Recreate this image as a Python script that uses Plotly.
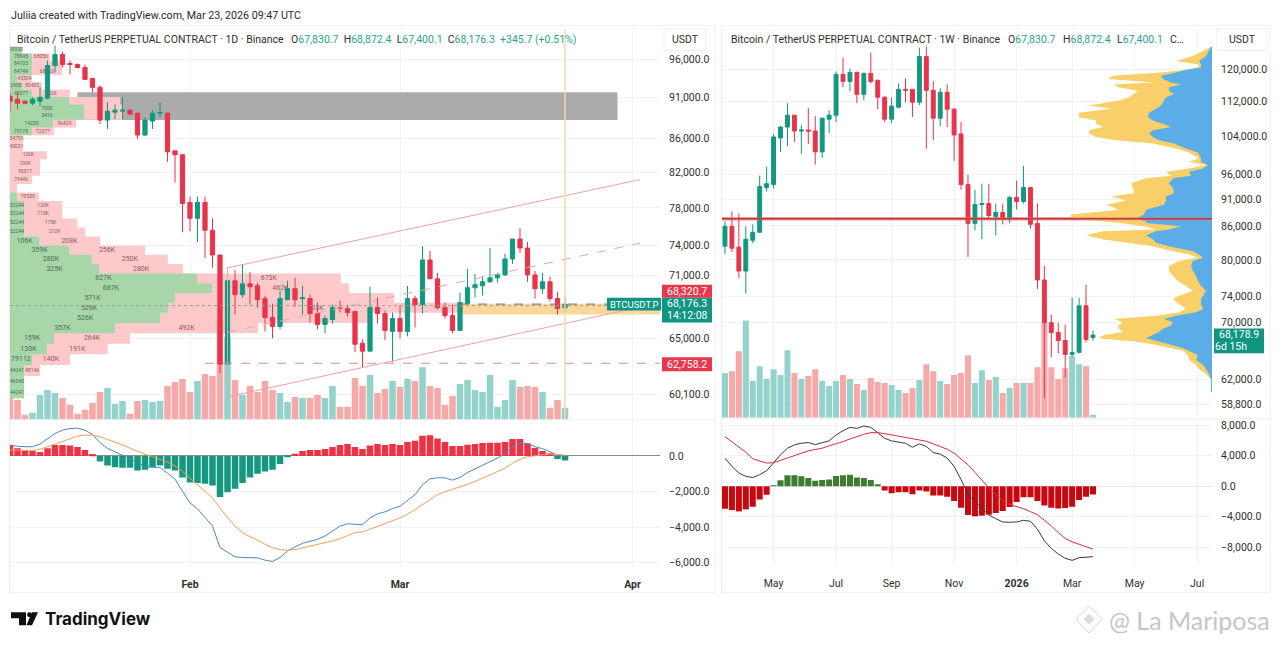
import numpy as np
import pandas as pd
import plotly.graph_objects as go

W, H = 1280, 648
FONT = "Roboto"
UP, DOWN = "#12987f", "#e8344a"
VOL_UP, VOL_DOWN = "#93d3cb", "#f7a8a8"

# ---- daily chart
d_dates = pd.date_range("2026-01-08", periods=75, freq="D")
d_open = [91190, 90810, 90560, 90310, 90560, 90950, 95200, 96670, 95470, 95340, 94940, 93500, 92340, 88200, 89190,
          89310, 89440, 89060, 86380, 88080, 89060, 89060, 84490, 84020, 78600, 76880, 78600, 75600, 73030, 62680,
          70440, 69080, 70140, 69950, 68700, 66910, 66080, 68600, 69660, 68700, 68700, 67280, 66260, 66720, 67840,
          67750, 67470, 64540, 63830, 67840, 67280, 65620, 66810, 65620, 68700, 68130, 72520, 70630, 67840, 67100,
          65710, 68220, 69750, 69950, 70340, 70730, 71020, 72620, 74670, 73740, 71020, 69660, 70340, 68700, 67830.7]
d_high = [91700, 91700, 90690, 91060, 92340, 95870, 97880, 97070, 95870, 95470, 95340, 93500, 92600, 90440, 90180,
          91060, 89560, 89060, 88570, 89440, 90440, 89190, 84490, 84140, 79260, 79260, 79260, 76880, 73030, 71720,
          71520, 72120, 71320, 70240, 68990, 68220, 69470, 70440, 70730, 69950, 69080, 68320, 67100, 68130, 68510,
          68030, 67470, 64900, 69850, 68790, 67560, 67370, 68030, 69950, 68990, 73940, 73430, 71220, 68320, 68130,
          69270, 71620, 71120, 70920, 73740, 71220, 73130, 74670, 75810, 74360, 71420, 71220, 70830, 69370, 68872.4]
d_low = [89190, 89560, 90180, 90060, 89930, 90810, 94280, 94940, 94020, 94810, 93370, 91700, 87720, 87110, 88330,
         88330, 88940, 85910, 86260, 87110, 88570, 83210, 80810, 75390, 75500, 74360, 72720, 71720, 61900, 59870,
         67190, 68790, 68130, 67840, 65620, 64990, 65800, 68600, 67930, 67190, 66450, 65800, 65440, 66350, 67370,
         67000, 63740, 62420, 63830, 66350, 64810, 62860, 64990, 65170, 65990, 67280, 70630, 67660, 66810, 65440,
         65710, 68220, 68790, 68990, 70240, 70240, 70920, 72120, 73230, 70340, 68700, 69180, 68410, 67190, 67400.1]
d_close = [90560, 90310, 90310, 90810, 91060, 95200, 96670, 95340, 95340, 94940, 93370, 92340, 88200, 89310, 89440,
           89440, 88940, 86380, 88200, 89060, 89120, 84370, 84020, 78490, 76880, 78600, 75600, 73030, 62680, 70440,
           69080, 70140, 69850, 68600, 66910, 66080, 68700, 69660, 68600, 68790, 67280, 66260, 66810, 67840, 67750,
           67370, 64450, 63830, 67840, 67280, 65710, 66810, 65620, 68700, 68130, 72520, 70630, 67840, 67100, 65710,
           68320, 69750, 70050, 70340, 70730, 71020, 72620, 74670, 73740, 71020, 69660, 70340, 68700, 67750, 68176.3]
d_volume = [22, 20, 5, 7, 25, 30, 27, 22, 15, 6, 10, 17, 28, 32, 16, 19, 6, 19, 20, 18, 19, 34, 38, 41, 28, 39, 46,
            44, 100, 83, 40, 25, 34, 28, 39, 30, 27, 18, 23, 22, 22, 25, 22, 34, 13, 13, 42, 34, 45, 27, 31, 39, 33,
            41, 39, 53, 34, 32, 15, 24, 36, 40, 30, 28, 45, 13, 20, 40, 33, 34, 33, 28, 12, 20, 12]
d_macd = [614, 540, 521, 521, 670, 987, 1266, 1452, 1545, 1564, 1452, 1210, 745, 428, 242, 19, -130, -354, -596, -633,
          -652, -968, -1303, -1992, -2644, -2979, -3482, -3947, -5158, -5400, -5679, -5716, -5716, -5735, -5865, -5940,
          -5716, -5344, -5120, -4916, -4804, -4692, -4506, -4227, -3947, -3817, -3854, -3873, -3482, -3258, -3147,
          -2961, -2830, -2514, -2179, -1620, -1285, -1229, -1229, -1359, -1210, -931, -745, -521, -317, -130, 149,
          521, 708, 708, 521, 410, 242, 37, -19]
d_signal = [335, 335, 298, 298, 372, 521, 670, 838, 987, 1117, 1173, 1173, 1080, 950, 782, 614, 428, 242, 93, -37,
            -186, -354, -559, -875, -1248, -1620, -1992, -2365, -2923, -3482, -3947, -4320, -4543, -4730, -4972, -5158,
            -5270, -5307, -5270, -5176, -5102, -5009, -4897, -4785, -4655, -4506, -4320, -4283, -4134, -3985, -3817,
            -3650, -3482, -3277, -3016, -2737, -2421, -2179, -2011, -1881, -1750, -1601, -1434, -1248, -1061, -875,
            -689, -410, -186, -37, 0, 74, 112, 93, 37]
d_hist = [614, 428, 279, 279, 223, 428, 614, 614, 596, 503, 335, 112, -317, -540, -633, -670, -670, -819, -782, -652,
          -540, -726, -819, -1210, -1490, -1527, -1564, -1657, -2309, -2048, -1843, -1527, -1210, -1005, -875, -782,
          -447, -74, 130, 279, 335, 335, 391, 503, 614, 670, 503, 391, 596, 670, 614, 670, 614, 782, 857, 1136, 1173,
          987, 782, 559, 559, 633, 670, 726, 745, 745, 782, 950, 950, 708, 447, 279, 149, -168, -261]

d_price_ticks = [96000, 91000, 86000, 82000, 78000, 74000, 71000, 65000, 60100]
d_price_labels = ["96,000.0", "91,000.0", "86,000.0", "82,000.0", "78,000.0", "74,000.0", "71,000.0", "65,000.0", "60,100.0"]
d_macd_ticks = [0, -2000, -4000, -6000]
d_macd_labels = ["0.0", "\u22122,000.0", "\u22124,000.0", "\u22126,000.0"]
d_months = ["2026-02-01", "2026-03-01", "2026-04-01"]
d_month_labels = ["<b>Feb</b>", "<b>Mar</b>", "<b>Apr</b>"]

# volume profile, rows top to bottom, in thousands
vp_edges = [97750, 96800, 95850, 94900, 93950, 93000, 92050, 91100, 90150, 89200, 88250, 87300, 86350, 85400, 84450,
            83500, 82550, 81600, 80650, 79700, 78750, 77800, 76850, 75900, 74950, 74000, 73050, 72100, 71150, 70200,
            69250, 68300, 67350, 66400, 65450, 64500, 63550, 62600, 61650, 60700, 59750]
vp_up = [40, 73, 73, 73, 23, 40, 73, 197, 247, 247, 143, 73, 0, 0, 0, 0, 0, 0, 0, 23, 47, 47, 47, 47, 97, 197, 273,
         297, 623, 673, 550, 527, 500, 350, 147, 123, 73, 47, 47, 47]
vp_down = [0, 60, 100, 100, 50, 67, 127, 170, 127, 127, 77, 73, 43, 43, 123, 100, 100, 73, 23, 73, 127, 127, 177, 203,
           203, 253, 253, 280, 480, 457, 730, 983, 693, 477, 253, 203, 127, 53, 0, 0]
vp_up_labels = ["99330", "78045", "84105", "84749", "", "2900", "40377", "", "7056", "3416", "14230", "79178", "", "",
                "", "", "", "", "", "", "52244", "52244", "52244", "52244", "106K", "359K", "280K", "325K", "627K",
                "687K", "571K", "526K", "526K", "357K", "159K", "130K", "79112", "44241", "46040", "44241"]
vp_down_labels = ["", "68056", "", "68163", "45304", "80405", "1526", "", "", "", "96429", "72577", "54759", "45031",
                  "126K", "109K", "95317", "79446", "", "70530", "120K", "115K", "175K", "212K", "208K", "256K",
                  "250K", "280K", "673K", "462K", "", "303K", "", "492K", "264K", "191K", "140K", "48146", "", ""]

zone_grey_days = ["2026-01-17", "2026-03-30"]
zone_grey_prices = [91700, 88200]
zone_orange_days = ["2026-03-09", "2026-04-05"]
zone_orange_prices = [68220, 67190]
channel_days = ["2026-02-06", "2026-04-02"]
channel_top = [71720, 81150]
channel_mid = [65530, 74250]
channel_low = [59870, 67890]
poc_price = 68030
last_price = 68176.3
level_price = 62758.2

# ---- weekly chart
w_dates = pd.date_range("2025-03-17", periods=54, freq="7D")
w_open = [82370, 85920, 82200, 78130, 83410, 84830, 93300, 93890, 103690, 106110, 108830, 105210, 105440, 105210,
          100650, 107910, 108830, 118670, 116920, 119170, 113760, 118920, 117170, 113050, 107910, 110690, 114970,
          114970, 111860, 123250, 114730, 108140, 114240, 110210, 104560, 93890, 86470, 90000, 90190, 87740, 88490,
          87560, 91350, 90570, 93300, 86470, 76660, 70010, 68540, 67400, 65440, 65720, 72570, 67830.7]
w_high = [86830, 88680, 88300, 85920, 86280, 95690, 97520, 104560, 106330, 111630, 108830, 106550, 110450, 108600,
          108140, 109980, 119420, 122990, 120170, 119420, 119170, 124300, 117420, 113290, 113050, 116440, 117670,
          114970, 125620, 125890, 116920, 115220, 116200, 110450, 107230, 95890, 92890, 94080, 94080, 90190, 90190,
          91730, 94680, 97720, 93300, 90190, 78960, 71200, 70010, 69720, 73810, 73810, 75860, 68872.4]
w_low = [81000, 81330, 76980, 74460, 82890, 84830, 92500, 93100, 100650, 101940, 102800, 100230, 102370, 97930, 99390,
         104770, 107230, 115470, 114480, 111630, 112330, 116440, 110210, 107230, 107000, 110450, 111860, 108370,
         111160, 101300, 103240, 106330, 106110, 98760, 92890, 80480, 85190, 83590, 87380, 84300, 86280, 86470, 89060,
         90190, 85550, 75220, 59630, 65040, 65580, 62330, 65040, 65580, 67120, 67400.1]
w_close = [85920, 82020, 78130, 83590, 84830, 93490, 94080, 103900, 106110, 108830, 105210, 105440, 105210, 100650,
           108140, 108830, 118670, 116920, 119170, 113760, 118920, 116920, 113050, 107910, 110930, 114970, 114730,
           111860, 123250, 114730, 108140, 114240, 110210, 104340, 93890, 86470, 90000, 90190, 87930, 88490, 87560,
           91350, 90570, 93300, 86280, 76660, 70010, 68540, 67400, 65440, 65720, 72570, 67540, 68178.9]
w_volume = [45, 47, 67, 98, 37, 52, 39, 49, 43, 68, 45, 39, 42, 49, 37, 32, 37, 43, 39, 34, 28, 40, 36, 35, 33, 28,
            25, 30, 38, 54, 47, 37, 34, 43, 45, 63, 35, 48, 38, 41, 25, 30, 35, 35, 35, 51, 96, 51, 39, 50, 62, 54,
            52, 3]
w_macd = [3686, 2600, 1734, 1300, 1127, 1517, 2038, 3122, 4120, 4986, 5420, 5637, 5724, 5463, 5724, 5940, 6720, 7284,
          7718, 7588, 7892, 7718, 7024, 6287, 5940, 5810, 5637, 5116, 5550, 5203, 4423, 4206, 3686, 2602, 867, -1084,
          -1951, -2948, -3772, -4249, -4683, -4726, -4683, -4466, -4596, -5637, -7154, -8152, -8889, -9452, -9713,
          -9366, -9322, -9236]
w_signal = [6504, 5854, 5203, 4466, 3599, 3295, 3035, 3079, 3382, 3772, 4032, 4336, 4640, 4813, 4986, 5290, 5550, 5854,
            6200, 6547, 6808, 7024, 7024, 6894, 6721, 6590, 6374, 6157, 5984, 5897, 5550, 5247, 4856, 4336, 3599, 2818,
            1821, 737, -217, -1084, -1864, -2385, -2645, -2948, -3339, -3729, -4466, -5203, -6070, -6851, -7284, -7631,
            -7978, -8238]
w_hist = [-2950, -3120, -3300, -3035, -2690, -1735, -1130, 40, 780, 1430, 1430, 1300, 1085, 735, 825, 870, 1345, 1430,
          1520, 1130, 1085, 825, 215, -560, -910, -780, -780, -1040, -560, -690, -1215, -1215, -1390, -1950, -2820,
          -3770, -3945, -3860, -3730, -3510, -3250, -2730, -2080, -1430, -1430, -1950, -2510, -2820, -2905, -2860,
          -2690, -1820, -1390, -1085]

w_price_ticks = [120000, 112000, 104000, 96000, 91000, 86000, 80000, 74000, 70000, 62000, 58800]
w_price_labels = ["120,000.0", "112,000.0", "104,000.0", "96,000.0", "91,000.0", "86,000.0", "80,000.0", "74,000.0",
                  "70,000.0", "62,000.0", "58,800.0"]
w_macd_ticks = [8000, 4000, 0, -4000, -8000]
w_macd_labels = ["8,000.0", "4,000.0", "0.0", "\u22124,000.0", "\u22128,000.0"]
w_months = ["2025-05-05", "2025-07-07", "2025-09-01", "2025-11-03", "2026-01-05", "2026-03-02", "2026-05-04", "2026-07-06"]
w_month_labels = ["May", "Jul", "Sep", "Nov", "<b>2026</b>", "Mar", "May", "Jul"]

wvp_price = [125890, 124750, 123400, 122100, 121270, 120430, 119850, 119170, 118340, 117510, 116680, 116130, 115470,
             114650, 113840, 113050, 112260, 111090, 110310, 109360, 108370, 107620, 106850, 106110, 105370, 104650,
             103900, 103170, 102440, 101370, 100510, 99250, 98550, 97870, 97180, 96490, 95690, 95160, 94150, 93160,
             92200, 91540, 90770, 89940, 89010, 88100, 87360, 86830, 86520, 85920, 85330, 85010, 84300, 83540, 82960,
             82370, 81500, 80930, 80360, 79800, 78960, 78130, 77310, 76500, 75700, 74900, 74120, 73610, 72850, 72080,
             71560, 71060, 70540, 70050, 69580, 69110, 68640, 68190, 67740, 67290, 66840, 66400, 65960, 65310, 64670,
             64030, 63410, 62800, 61990, 60380]
wvp_total = [1, 9, 19, 36, 14, 13, 26, 51, 99, 104, 59, 98, 94, 74, 79, 83, 93, 123, 101, 133, 133, 116, 116, 109, 123,
             123, 116, 96, 59, 36, 23, 13, 23, 6, 23, 46, 41, 66, 81, 79, 78, 101, 86, 106, 93, 141, 141, 113, 91, 68,
             56, 109, 126, 108, 83, 59, 39, 23, 14, 33, 43, 43, 39, 34, 26, 19, 33, 39, 33, 26, 33, 56, 98, 89, 94, 93,
             89, 108, 114, 79, 58, 43, 29, 24, 23, 16, 13, 6, 1, 1]
wvp_blue = [1, 3, 6, 13, 11, 11, 26, 36, 51, 49, 41, 31, 43, 43, 38, 46, 48, 51, 56, 63, 64, 59, 49, 41, 59, 63, 59,
            53, 38, 26, 14, 11, 11, 4, 9, 23, 21, 39, 43, 39, 38, 46, 46, 48, 66, 68, 76, 66, 66, 31, 43, 56, 66, 59,
            56, 43, 19, 13, 9, 19, 21, 19, 16, 14, 11, 6, 9, 11, 11, 9, 16, 36, 48, 39, 41, 49, 53, 59, 66, 54, 43, 31,
            23, 14, 16, 9, 6, 3, 1, 1]
w_line_price = 87330


def px(x):
    return x / W


def py(y):
    return 1 - y / H


def steps(values, edges):
    xs, ys = [], []
    for i, v in enumerate(values):
        xs += [v, v]
        ys += [edges[i], edges[i + 1]]
    return xs, ys


def rect(x0, x1, y0, y1):
    return [x0, x1, x1, x0, x0], [y0, y0, y1, y1, y0]


fig = go.Figure()

# base of the left pane: zones
xs, ys = rect(zone_grey_days[0], zone_grey_days[1], zone_grey_prices[0], zone_grey_prices[1])
fig.add_trace(go.Scatter(x=xs, y=ys, xaxis="x", yaxis="y", mode="lines", fill="toself", fillcolor="#ababab", line=dict(width=0)))
xs, ys = rect(zone_orange_days[0], zone_orange_days[1], zone_orange_prices[0], zone_orange_prices[1])
fig.add_trace(go.Scatter(x=xs, y=ys, xaxis="x", yaxis="y", mode="lines", fill="toself", fillcolor="#fcd79c", line=dict(width=0)))

# left volume profile
vp_total = [a + b for a, b in zip(vp_up, vp_down)]
xs, ys = steps(vp_total, vp_edges)
fig.add_trace(go.Scatter(x=xs, y=ys, xaxis="x2", yaxis="y", mode="lines", fill="tozerox", fillcolor="#fdc9ca", line=dict(width=0)))
xs, ys = steps(vp_up, vp_edges)
fig.add_trace(go.Scatter(x=xs, y=ys, xaxis="x2", yaxis="y", mode="lines", fill="tozerox", fillcolor="#a7d7a9", line=dict(width=0)))
row_mid = [(vp_edges[i] + vp_edges[i + 1]) / 2 for i in range(len(vp_up))]
label_size = [5 if i < 24 or i >= 37 else 7 for i in range(len(vp_up))]
fig.add_trace(go.Scatter(x=[u / 2 for u in vp_up], y=row_mid, text=vp_up_labels, xaxis="x2", yaxis="y", mode="text",
                         textfont=dict(family=FONT, size=label_size, color="#4f6b50")))
fig.add_trace(go.Scatter(x=[u + d / 2 for u, d in zip(vp_up, vp_down)], y=row_mid, text=vp_down_labels, xaxis="x2", yaxis="y",
                         mode="text", textfont=dict(family=FONT, size=label_size, color="#8a5a5a")))

# left volume
d_colors = [VOL_UP if c >= o else VOL_DOWN for o, c in zip(d_open, d_close)]
fig.add_trace(go.Bar(x=d_dates, y=d_volume, xaxis="x3", yaxis="y2", marker=dict(color=d_colors, line=dict(width=0))))

# left candles and lines
for vals, dash in ((channel_top, "solid"), (channel_mid, "dash"), (channel_low, "solid")):
    fig.add_trace(go.Scatter(x=channel_days, y=vals, xaxis="x4", yaxis="y", mode="lines", line=dict(color="#eba3a3", width=1, dash=dash)))
fig.add_trace(go.Scatter(x=[channel_days[0], channel_days[0]], y=[channel_low[0], channel_top[0]], xaxis="x4", yaxis="y",
                         mode="lines", line=dict(color="#b9b9b9", width=1)))
fig.add_trace(go.Scatter(x=["2026-01-08", "2026-04-05"], y=[poc_price, poc_price], xaxis="x4", yaxis="y", mode="lines",
                         line=dict(color="#9a9a9a", width=1, dash="dot")))
fig.add_trace(go.Scatter(x=["2026-02-03", "2026-04-05"], y=[level_price, level_price], xaxis="x4", yaxis="y", mode="lines",
                         line=dict(color="#e58a8a", width=1, dash="dash")))
fig.add_trace(go.Candlestick(x=d_dates, open=d_open, high=d_high, low=d_low, close=d_close, xaxis="x4", yaxis="y", whiskerwidth=0,
                             increasing=dict(line=dict(color=UP, width=1), fillcolor=UP),
                             decreasing=dict(line=dict(color=DOWN, width=1), fillcolor=DOWN)))
fig.add_trace(go.Scatter(x=["2026-03-09", "2026-04-05"], y=[last_price, last_price], xaxis="x4", yaxis="y", mode="lines",
                         line=dict(color="#777777", width=1, dash="dash")))
fig.add_trace(go.Scatter(x=["2026-03-23", "2026-03-23"], y=[57000, 101000], xaxis="x4", yaxis="y", mode="lines",
                         line=dict(color="#f5d9a7", width=1.5)))

# base of the right pane, so its axes get drawn
fig.add_trace(go.Scatter(x=["2025-03-14", "2026-07-21"], y=[w_line_price, w_line_price], xaxis="x5", yaxis="y3", mode="lines",
                         line=dict(color="rgba(230,120,120,0.45)", width=3.5)))

# right volume profile
fig.add_trace(go.Scatter(x=wvp_total, y=wvp_price, xaxis="x6", yaxis="y3", mode="lines", fill="tozerox", fillcolor="#f9cf6a", line=dict(width=0)))
fig.add_trace(go.Scatter(x=wvp_blue, y=wvp_price, xaxis="x6", yaxis="y3", mode="lines", fill="tozerox", fillcolor="#5aade7", line=dict(width=0)))

# right volume
w_colors = [VOL_UP if c >= o else VOL_DOWN for o, c in zip(w_open, w_close)]
fig.add_trace(go.Bar(x=w_dates, y=w_volume, xaxis="x7", yaxis="y4", marker=dict(color=w_colors, line=dict(width=0))))

# right candles
fig.add_trace(go.Candlestick(x=w_dates, open=w_open, high=w_high, low=w_low, close=w_close, xaxis="x8", yaxis="y3", whiskerwidth=0,
                             increasing=dict(line=dict(color=UP, width=1), fillcolor=UP),
                             decreasing=dict(line=dict(color=DOWN, width=1), fillcolor=DOWN)))
fig.add_trace(go.Scatter(x=["2025-03-14", "2026-07-21"], y=[w_line_price, w_line_price], xaxis="x8", yaxis="y3", mode="lines",
                         line=dict(color="rgba(230,120,120,0.45)", width=3.5)))
fig.add_trace(go.Scatter(x=["2025-03-14", "2026-07-21"], y=[w_line_price, w_line_price], xaxis="x8", yaxis="y3", mode="lines",
                         line=dict(color="#c0343a", width=1.5)))

# macd panes
fig.add_trace(go.Bar(x=d_dates, y=d_hist, xaxis="x9", yaxis="y5", marker=dict(color=["#ef3145" if v > 0 else "#16977f" for v in d_hist], line=dict(width=0))))
fig.add_trace(go.Scatter(x=d_dates, y=d_macd, xaxis="x9", yaxis="y5", mode="lines", line=dict(color="#4f86bd", width=1)))
fig.add_trace(go.Scatter(x=d_dates, y=d_signal, xaxis="x9", yaxis="y5", mode="lines", line=dict(color="#ee9f5a", width=1)))
fig.add_trace(go.Bar(x=w_dates, y=w_hist, xaxis="x10", yaxis="y6", marker=dict(color=["#3f7c30" if v > 0 else "#c9070f" for v in w_hist], line=dict(width=0))))
fig.add_trace(go.Scatter(x=w_dates, y=w_macd, xaxis="x10", yaxis="y6", mode="lines", line=dict(color="#3a3a3a", width=1)))
fig.add_trace(go.Scatter(x=w_dates, y=w_signal, xaxis="x10", yaxis="y6", mode="lines", line=dict(color="#d9303a", width=1)))

GRID = "#f1f2f4"
TICK = dict(family=FONT, size=10.5, color="#2f2f2f")
L_DOM, R_DOM = [px(10), px(660)], [px(722), px(1212)]
L_RANGE = ["2026-01-08", "2026-04-04 16:00"]
R_RANGE = ["2025-03-14", "2026-07-21"]


def hidden(domain, rng, anchor, over=None):
    a = dict(domain=domain, range=rng, anchor=anchor, visible=False, rangeslider=dict(visible=False))
    if over:
        a["overlaying"] = over
    return a


def date_base(domain, rng, anchor, ticks, labels, show):
    return dict(domain=domain, range=rng, anchor=anchor, type="date", tickmode="array", tickvals=ticks, ticktext=labels,
                showticklabels=show, ticks="outside" if show else "", ticklen=8, tickcolor="rgba(0,0,0,0)", tickfont=TICK,
                showgrid=True, gridcolor=GRID, zeroline=False, showline=False, rangeslider=dict(visible=False))


def value_axis(domain, rng, anchor, ticks, labels, kind="linear", zero=False):
    return dict(domain=domain, range=rng, anchor=anchor, side="right", type=kind, tickmode="array", tickvals=ticks, ticktext=labels,
                ticks="outside", ticklen=6, tickcolor="rgba(0,0,0,0)", tickfont=TICK, showgrid=True, gridcolor=GRID,
                zeroline=zero, zerolinecolor="#8c8c8c", zerolinewidth=1, showline=False)


fig.update_layout(
    width=W, height=H, margin=dict(l=0, r=0, t=0, b=0), autosize=False, showlegend=False,
    paper_bgcolor="white", plot_bgcolor="white", font=dict(family=FONT), bargap=0.13, barmode="overlay",
    boxgap=0.25, boxgroupgap=0.25,
    xaxis=date_base(L_DOM, L_RANGE, "y", d_months, d_month_labels, False),
    yaxis=value_axis([py(421), py(28)], [np.log10(57987), np.log10(100085)], "x", d_price_ticks, d_price_labels, "log"),
    xaxis2=hidden(L_DOM, [0, 2167], "y", "x"),
    xaxis3=dict(hidden(L_DOM, L_RANGE, "y2", "x"), type="date"),
    yaxis2=dict(domain=[py(421), py(28)], range=[0, 393], anchor="x3", overlaying="y", visible=False),
    xaxis4=dict(hidden(L_DOM, L_RANGE, "y", "x"), type="date"),
    xaxis5=date_base(R_DOM, R_RANGE, "y3", w_months, w_month_labels, False),
    yaxis3=value_axis([py(419), py(28)], [np.log10(57190), np.log10(130485)], "x5", w_price_ticks, w_price_labels, "log"),
    xaxis6=hidden(R_DOM, [490, 0], "y3", "x5"),
    xaxis7=dict(hidden(R_DOM, R_RANGE, "y4", "x5"), type="date"),
    yaxis4=dict(domain=[py(419), py(28)], range=[0, 391], anchor="x7", overlaying="y3", visible=False),
    xaxis8=dict(hidden(R_DOM, R_RANGE, "y3", "x5"), type="date"),
    xaxis9=date_base(L_DOM, L_RANGE, "y5", d_months, d_month_labels, True),
    yaxis5=value_axis([py(568.5), py(422.5)], [-6201, 1955], "x9", d_macd_ticks, d_macd_labels, zero=True),
    xaxis10=date_base(R_DOM, R_RANGE, "y6", w_months, w_month_labels, True),
    yaxis6=value_axis([py(567.5), py(422.5)], [-10341, 8520], "x10", w_macd_ticks, w_macd_labels, zero=True),
)
fig.update_yaxes(zerolinecolor="#e8e8e8", selector=dict(anchor="x10"))


def note(x, y, text, size=10.5, color="#2f2f2f", anchor="left", family=FONT):
    fig.add_annotation(xref="paper", yref="paper", x=px(x), y=py(y), text=text, showarrow=False, xanchor=anchor, yanchor="middle",
                       align=anchor, borderpad=0, font=dict(family=family, size=size, color=color))


def box(x0, x1, y0, y1, fill="rgba(0,0,0,0)", line="rgba(0,0,0,0)", layer="above"):
    fig.add_shape(type="rect", xref="paper", yref="paper", x0=px(x0), x1=px(x1), y0=py(y0), y1=py(y1), fillcolor=fill,
                  line=dict(color=line, width=1), layer=layer)


def poly(points, fill, line=None):
    d = "M " + " L ".join(f"{px(a):.5f},{py(b):.5f}" for a, b in points) + " Z"
    fig.add_shape(type="path", xref="paper", yref="paper", path=d, fillcolor=fill,
                  line=dict(color=line or fill, width=1 if line else 0))


# pane frames
box(9.5, 715, 23.5, 595, line="#eeeeee")
box(721.5, 1270, 23.5, 595, line="#eeeeee")
fig.add_shape(type="line", xref="paper", yref="paper", x0=px(10), x1=px(715), y0=py(421), y1=py(421), line=dict(color="#eeeeee", width=1))
fig.add_shape(type="line", xref="paper", yref="paper", x0=px(722), x1=px(1270), y0=py(420), y1=py(420), line=dict(color="#eeeeee", width=1))
box(664, 706, 27, 49, fill="white", line="#eeeeee")
box(1217, 1267, 27, 49, fill="white", line="#eeeeee")
note(685, 38, "USDT", anchor="center")
note(1242, 38, "USDT", anchor="center")

# header lines
note(10, 14, "Juliia created with TradingView.com, Mar 23, 2026 09:47 UTC", size=10.7, color="#2a2a2a")
T = "#2e9f92"
SP = "\u00a0\u00a0"
note(16, 38, "Bitcoin / TetherUS PERPETUAL CONTRACT \u00b7 1D \u00b7 Binance", size=10.5)
note(290, 38, f'O<span style="color:{T}">67,830.7</span>{SP}H<span style="color:{T}">68,872.4</span>{SP}'
              f'L<span style="color:{T}">67,400.1</span>{SP}C<span style="color:{T}">68,176.3</span>{SP}'
              f'<span style="color:{T}">+345.7 (+0.51%)</span>', size=10.5)
note(730, 38, "Bitcoin / TetherUS PERPETUAL CONTRACT \u00b7 1W \u00b7 Binance", size=10.5)
note(1007, 38, f'O<span style="color:{T}">67,830.7</span>', size=10.5)
note(1062, 38, f'H<span style="color:{T}">68,872.4</span>', size=10.5)
note(1116, 38, f'L<span style="color:{T}">67,400.1</span>', size=10.5)
note(1169, 38, "C\u2026", size=10.5)

# price tags
box(662, 712, 285, 298, fill="#e8394c")
note(687, 291.5, "68,320.7", color="white", anchor="center")
box(662, 712, 298, 323, fill="#0f9582")
note(687, 304, "68,176.3", color="white", anchor="center")
note(687, 316, "14:12:08", color="white", anchor="center")
box(607, 661, 298, 311, fill="#0f9582")
note(634, 304.5, "BTCUSDT.P", size=9.5, color="white", anchor="center")
box(662, 712, 358, 372, fill="#e8394c")
note(687, 365, "62,758.2", color="white", anchor="center")
box(1214, 1264, 329, 354, fill="#0f9582")
note(1239, 335.5, "68,178.9", color="white", anchor="center")
note(1231, 347.5, "6d 15h", color="white", anchor="center")

# TradingView mark
poly([(11, 615), (26, 615), (26, 628), (19, 628), (19, 621), (11, 621)], "#111111")
fig.add_shape(type="circle", xref="paper", yref="paper", x0=px(27), x1=px(32), y0=py(615), y1=py(620), fillcolor="#111111", line=dict(width=0))
poly([(32, 615), (38, 615), (32, 628), (26.5, 628)], "#111111")
note(44, 622, "<b>TradingView</b>", size=17, color="#111111", family="Inter")

# watermark
poly([(1089, 609), (1102, 622), (1089, 636), (1076, 622)], "rgba(0,0,0,0)", "#d4d4d4")
poly([(1089, 617), (1094, 622), (1089, 627), (1084, 622)], "#dcdcdc", "#dcdcdc")
note(1108, 623, "@ La Mariposa", size=25, color="#c6c6c6", family="Lato")

fig.write_html("out.html", post_script="document.body.style.margin='0';", config={"displayModeBar": False})
